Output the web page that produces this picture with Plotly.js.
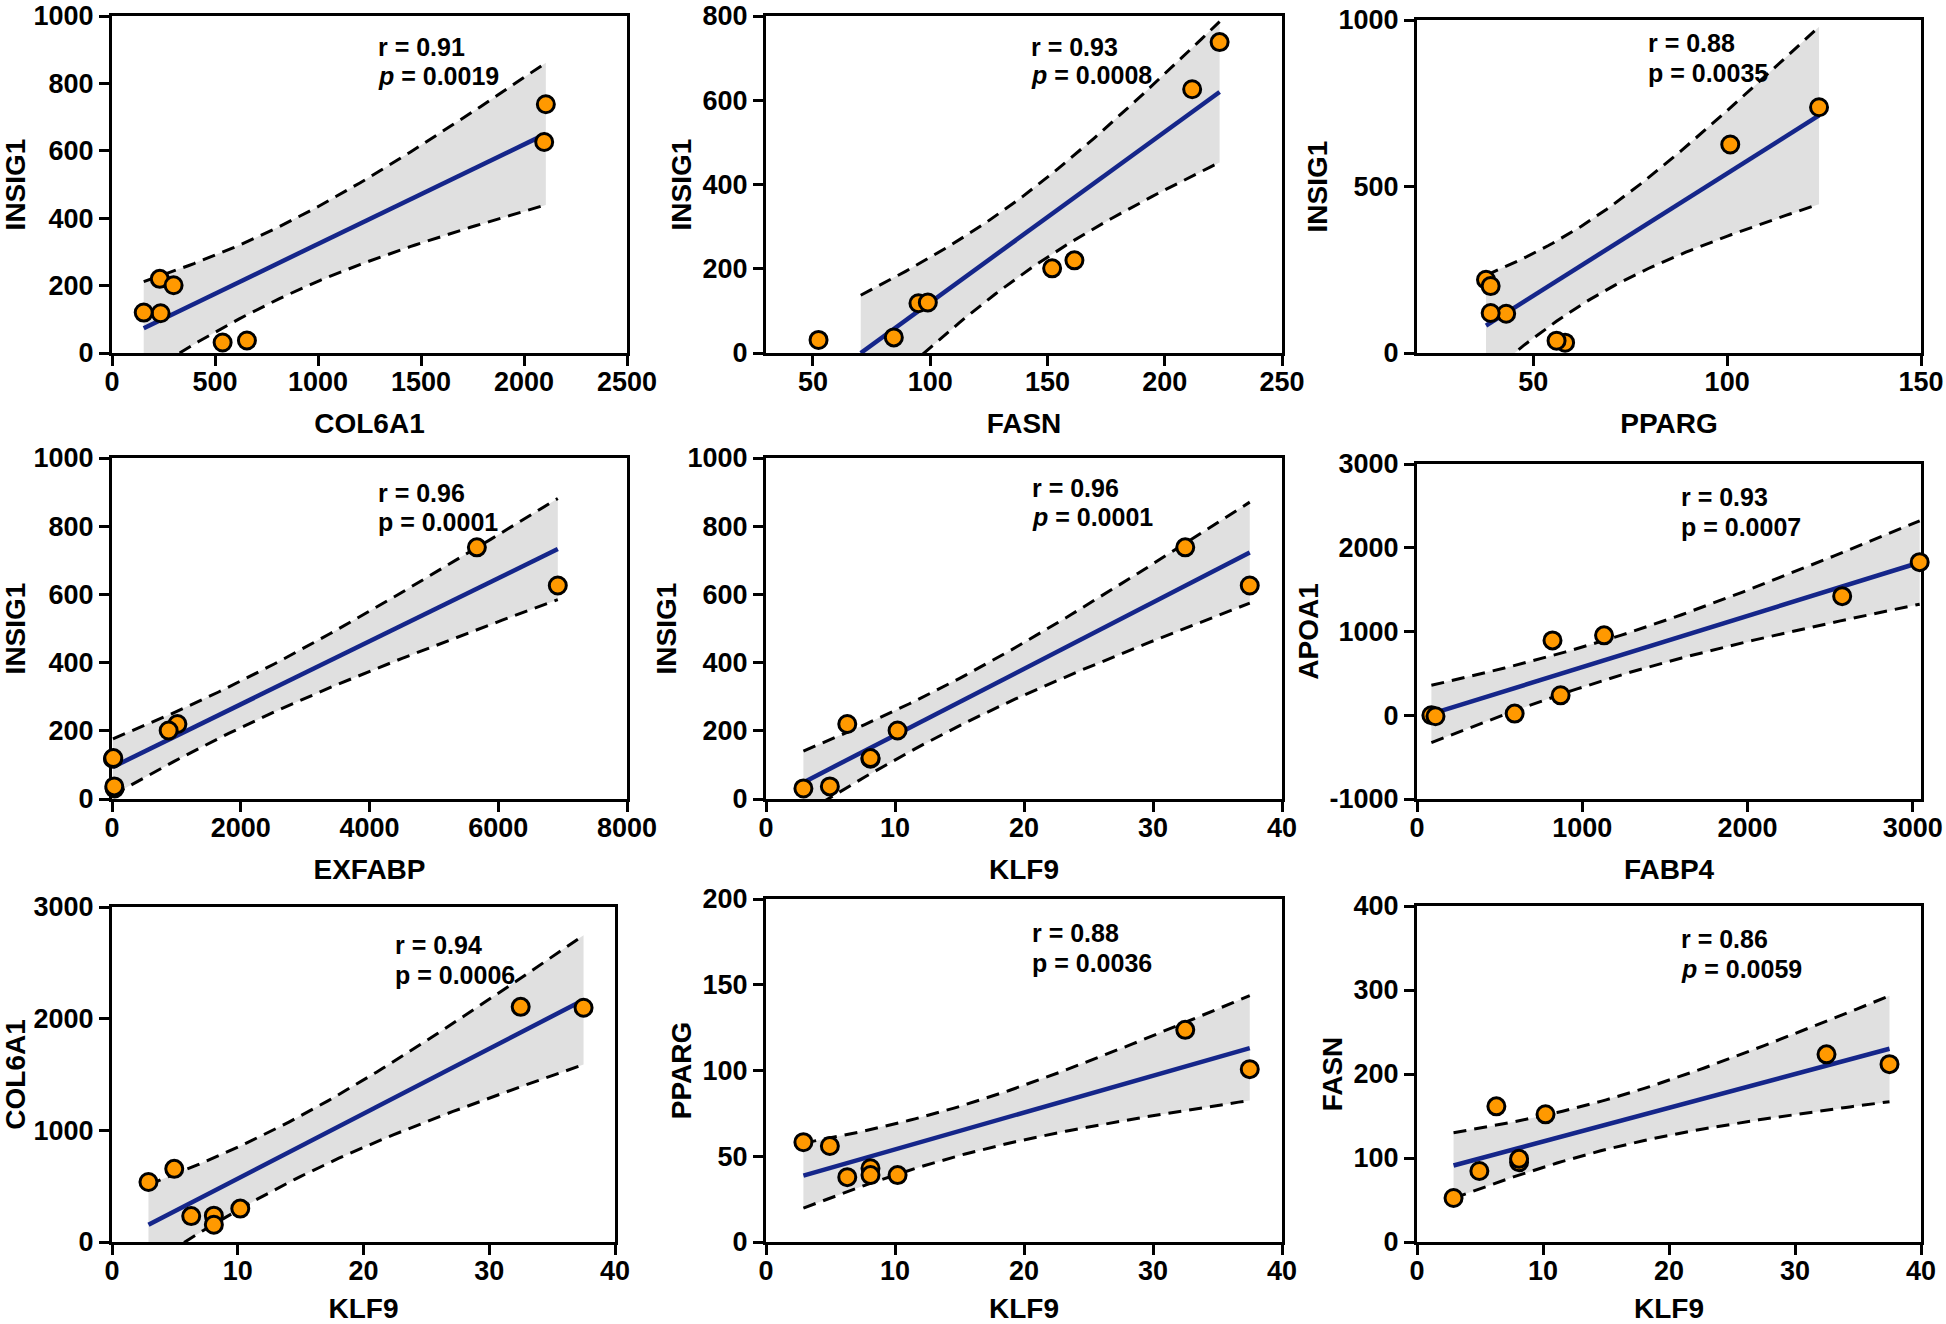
<!DOCTYPE html>
<html>
<head>
<meta charset="utf-8">
<script src="https://cdn.plot.ly/plotly-3.0.1.min.js"></script>
<style>html,body{margin:0;padding:0;background:#fff;}</style>
</head>
<body>
<div id="chart" style="width:1946px;height:1324px;"></div>
<script>
// ---- data: expression values of 8 samples ----
const KLF9   = [2.9, 4.95, 6.3, 8.1, 8.1, 10.2, 32.5, 37.5];
const INSIG1 = [31, 37, 220, 118, 120, 201, 738, 626];
const COL6A1 = [537, 655, 232, 236, 154, 299, 2106, 2098];
const FASN   = [52.4, 84.5, 161.5, 95, 99, 152, 223.4, 211.7];
const PPARG  = [58.2, 56, 37.8, 43, 39, 39, 123.7, 100.8];
const EXFABP = [40, 35, 1016, 15, 20, 880, 5668, 6925];
// FABP4 vs APOA1 panel
const FABP4  = [87, 112, 591, 820, 869, 1132, 2573, 3042];
const APOA1  = [0, -12, 20, 894, 238, 954, 1422, 1828];
// correlation statistics printed in each panel
const rValues = ['0.91', '0.93', '0.88', '0.96', '0.96', '0.93', '0.94', '0.88', '0.86'];
const pValues = ['0.0019', '0.0008', '0.0035', '0.0001', '0.0001', '0.0007', '0.0006', '0.0036', '0.0059'];
const pItalic = [true, true, false, false, true, false, false, false, true];
// tick labels of the APOA1 axis
const apoaTickVals = [-1000, 0, 1000, 2000, 3000];
const apoaTickText = ['-1000', '0', '1000', '2000', '3000'];

// ---- panel definitions ----
const panels = [
  {x: COL6A1, y: INSIG1, xt: 'COL6A1', yt: 'INSIG1', xr: [0, 2500], yr: [0, 1000], dx: 500, dy: 200},
  {x: FASN,   y: INSIG1, xt: 'FASN',   yt: 'INSIG1', xr: [30, 250], yr: [0, 800],  dx: 50,  dy: 200},
  {x: PPARG,  y: INSIG1, xt: 'PPARG',  yt: 'INSIG1', xr: [20, 150], yr: [0, 1000], dx: 50,  dy: 500},
  {x: EXFABP, y: INSIG1, xt: 'EXFABP', yt: 'INSIG1', xr: [0, 8000], yr: [0, 1000], dx: 2000, dy: 200},
  {x: KLF9,   y: INSIG1, xt: 'KLF9',   yt: 'INSIG1', xr: [0, 40],   yr: [0, 1000], dx: 10,  dy: 200},
  {x: FABP4,  y: APOA1,  xt: 'FABP4',  yt: 'APOA1',  xr: [0, 3050], yr: [-1000, 3000], dx: 1000, dy: 1000},
  {x: KLF9,   y: COL6A1, xt: 'KLF9',   yt: 'COL6A1', xr: [0, 40],   yr: [0, 3000], dx: 10,  dy: 1000},
  {x: KLF9,   y: PPARG,  xt: 'KLF9',   yt: 'PPARG',  xr: [0, 40],   yr: [0, 200],  dx: 10,  dy: 50},
  {x: KLF9,   y: FASN,   xt: 'KLF9',   yt: 'FASN',   xr: [0, 40],   yr: [0, 400],  dx: 10,  dy: 100}
];

// ---- layout geometry (pixels) ----
const W = 1946, H = 1324;
const boxes = [ // [left, right, top, bottom]
  [112, 627, 16, 353], [766, 1282, 16, 353], [1417, 1921, 20, 353],
  [112, 627, 458, 799], [766, 1282, 458, 799], [1417, 1921, 464, 799],
  [112, 615, 907, 1242], [766, 1282, 899, 1242], [1417, 1921, 906, 1242]
];
const annPos = [ // [left x, line1 y, line2 y]
  [376, 47, 76], [1029, 47, 75], [1646, 43, 73],
  [376, 493, 522], [1030, 488, 517], [1679, 497, 527],
  [393, 945, 975], [1030, 933, 963], [1679, 939, 969]
];

const FAM = 'Liberation Sans, Arial, Helvetica, sans-serif';
const T_CRIT = 2.4469; // two-sided 95 % t value, df = n - 2 = 6

function regress(xs, ys) {
  const n = xs.length;
  let mx = 0, my = 0;
  for (let i = 0; i < n; i++) { mx += xs[i]; my += ys[i]; }
  mx /= n; my /= n;
  let sxx = 0, sxy = 0, syy = 0;
  for (let i = 0; i < n; i++) {
    const dx = xs[i] - mx, dy = ys[i] - my;
    sxx += dx * dx; sxy += dx * dy; syy += dy * dy;
  }
  const b = sxy / sxx, a = my - b * mx;
  const s = Math.sqrt((syy - b * sxy) / (n - 2));
  return {a, b, s, n, mx, sxx};
}

const traces = [];
const layout = {
  width: W, height: H,
  margin: {l: 0, r: 0, t: 0, b: 0},
  paper_bgcolor: '#ffffff', plot_bgcolor: '#ffffff',
  showlegend: false,
  annotations: []
};

panels.forEach((p, i) => {
  const k = i + 1;
  const xa = 'x' + (k === 1 ? '' : k), ya = 'y' + (k === 1 ? '' : k);
  const bx = boxes[i];

  // regression + 95% confidence band
  const f = regress(p.x, p.y);
  let x0 = Math.min(...p.x), x1 = Math.max(...p.x);
  if (f.b > 0 && f.a + f.b * x0 < p.yr[0]) x0 = (p.yr[0] - f.a) / f.b;
  const N = 80, fx = [], fy = [], up = [], lo = [];
  for (let j = 0; j <= N; j++) {
    const xv = x0 + (x1 - x0) * j / N;
    const yv = f.a + f.b * xv;
    const se = f.s * Math.sqrt(1 / f.n + (xv - f.mx) * (xv - f.mx) / f.sxx);
    fx.push(xv); fy.push(yv);
    up.push(yv + T_CRIT * se); lo.push(yv - T_CRIT * se);
  }
  traces.push({
    type: 'scatter', mode: 'lines', xaxis: xa, yaxis: ya,
    x: fx.concat(fx.slice().reverse()), y: up.concat(lo.slice().reverse()),
    fill: 'toself', fillcolor: '#e0e0e0', line: {width: 0}, hoverinfo: 'skip'
  });
  traces.push({
    type: 'scatter', mode: 'lines', xaxis: xa, yaxis: ya, x: fx, y: up,
    line: {color: '#000000', width: 3, dash: '13px,8px'}, hoverinfo: 'skip'
  });
  traces.push({
    type: 'scatter', mode: 'lines', xaxis: xa, yaxis: ya, x: fx, y: lo,
    line: {color: '#000000', width: 3, dash: '13px,8px'}, hoverinfo: 'skip'
  });
  traces.push({
    type: 'scatter', mode: 'lines', xaxis: xa, yaxis: ya, x: [fx[0], fx[N]], y: [fy[0], fy[N]],
    line: {color: '#15268a', width: 4.5}, hoverinfo: 'skip'
  });
  traces.push({
    type: 'scatter', mode: 'markers', xaxis: xa, yaxis: ya, x: p.x, y: p.y,
    cliponaxis: false,
    marker: {size: 17, color: '#ff9900', line: {color: '#000000', width: 3}}
  });

  const axCommon = {
    showgrid: false, zeroline: false, showline: true, linecolor: '#000000', linewidth: 3,
    mirror: true, ticks: 'outside', ticklen: 10, tickwidth: 3, tickcolor: '#000000',
    tickfont: {family: FAM, size: 27, color: '#000000', weight: 'bold'},
    ticklabeloverflow: 'allow',
    layer: 'below traces', fixedrange: true, automargin: false
  };
  layout['xaxis' + (k === 1 ? '' : k)] = Object.assign({}, axCommon, {
    domain: [bx[0] / W, bx[1] / W], anchor: ya,
    range: p.xr, tickmode: 'linear', tick0: 0, dtick: p.dx,
    ticklabelstandoff: -7,
    title: {text: p.xt, font: {family: FAM, size: 28, color: '#000000', weight: 'bold'}, standoff: 17}
  });
  const yax = Object.assign({}, axCommon, {
    domain: [1 - bx[3] / H, 1 - bx[2] / H], anchor: xa,
    range: p.yr, tickmode: 'linear', tick0: 0, dtick: p.dy,
    title: {text: p.yt, font: {family: FAM, size: 28, color: '#000000', weight: 'bold'}, standoff: 3}
  });
  if (p.yt === 'APOA1') {
    yax.tickmode = 'array'; yax.tickvals = apoaTickVals; yax.ticktext = apoaTickText;
  }
  layout['yaxis' + (k === 1 ? '' : k)] = yax;

  const ap = annPos[i];
  const annFont = {family: FAM, size: 25, color: '#000000', weight: 'bold'};
  layout.annotations.push({
    xref: 'paper', yref: 'paper', x: ap[0] / W, y: 1 - ap[1] / H,
    xanchor: 'left', yanchor: 'middle', showarrow: false,
    text: 'r = ' + rValues[i], font: annFont
  });
  layout.annotations.push({
    xref: 'paper', yref: 'paper', x: ap[0] / W, y: 1 - ap[2] / H,
    xanchor: 'left', yanchor: 'middle', showarrow: false,
    text: (pItalic[i] ? '<i>p</i>' : 'p') + ' = ' + pValues[i], font: annFont
  });
});

Plotly.newPlot('chart', traces, layout, {staticPlot: true, displayModeBar: false});
</script>
</body>
</html>
